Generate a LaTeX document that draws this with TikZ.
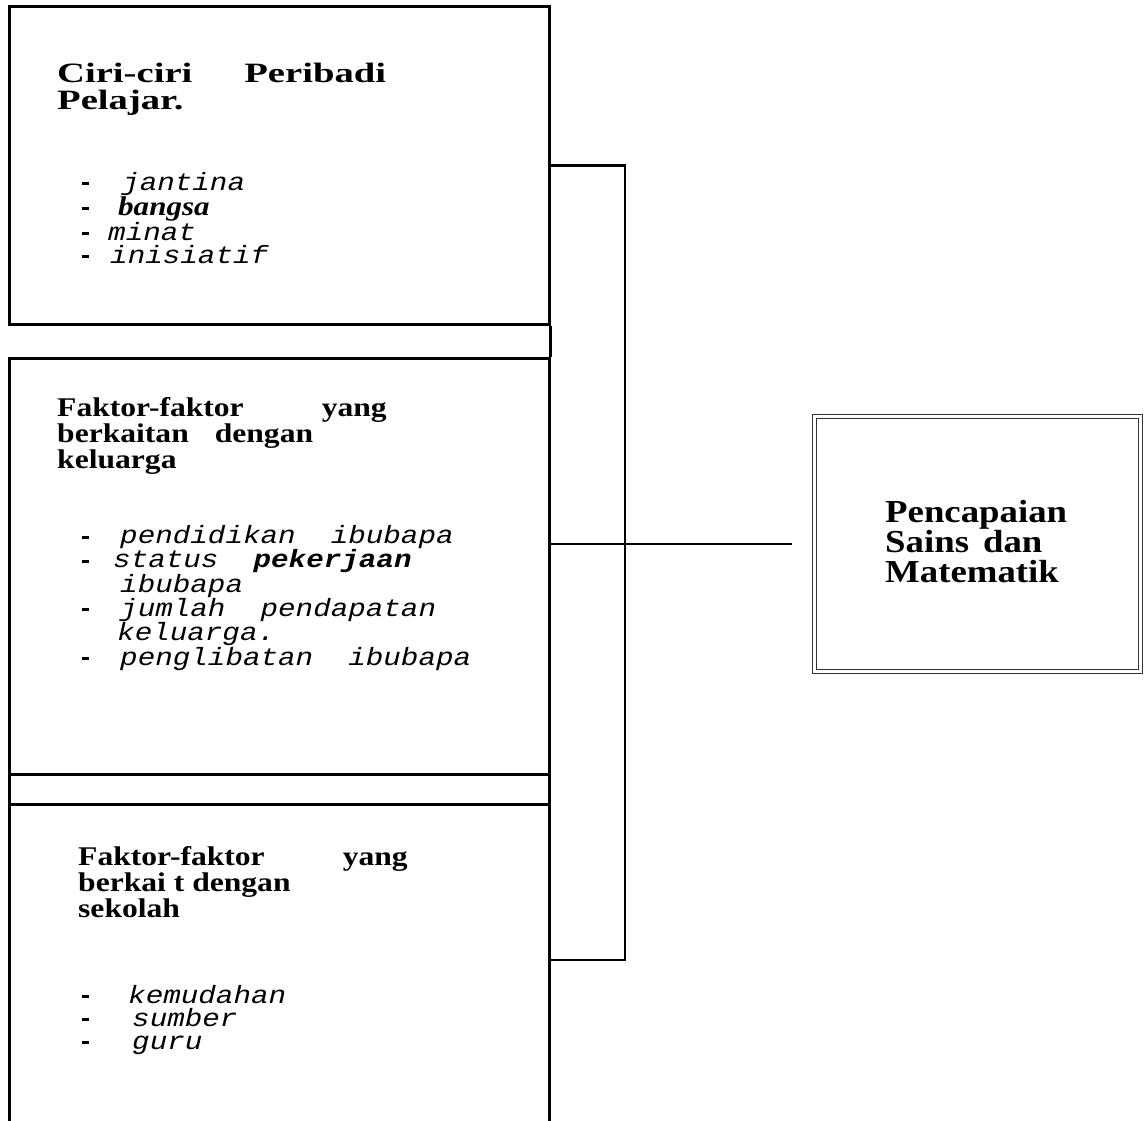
\documentclass[tikz,border=0pt]{standalone}
\usepackage{fontspec}
\setmainfont{Liberation Serif}
\newfontfamily\headfont{Liberation Serif}[FakeStretch=1.17]
\newfontfamily\bigheadfont{Liberation Serif}[FakeStretch=1.38]
\newfontfamily\goalfont{Liberation Serif}[FakeStretch=1.15]
\newfontfamily\listfont{Liberation Mono}[FakeStretch=1.17]
\newfontfamily\slantfont{Liberation Serif}[FakeStretch=1.15]
\usetikzlibrary{positioning}

\newcommand{\dashmk}{\rule[5pt]{7pt}{3pt}}
\newcommand{\itm}[2][38pt]{\makebox[#1][l]{\dashmk}#2}
\newcommand{\cont}[2][38pt]{\hspace*{#1}#2}

\tikzset{
  frame/.style={draw, line width=2.6pt, minimum width=540pt, anchor=north west, inner sep=0pt},
  head/.style={anchor=base west, align=left, inner sep=0pt, font=\headfont\bfseries\fontsize{27}{21}\selectfont},
  bighead/.style={head, font=\bigheadfont\bfseries\fontsize{28}{27}\selectfont},
  goalhead/.style={head, font=\goalfont\bfseries\fontsize{32}{30}\selectfont},
  items/.style={anchor=base west, align=left, inner sep=0pt, font=\listfont\itshape\fontsize{25}{23}\selectfont},
  goalbox/.style={draw=black!80, line width=1.8pt, double, double distance=2.2pt,
    minimum width=326pt, minimum height=255pt, inner sep=0pt},
  link/.style={line width=2.6pt}
}

\begin{document}
\begin{tikzpicture}[x=1pt,y=-1pt]
  \useasboundingbox (0,0) rectangle (1144,1121);

  % kotak di kiri
  \node[frame, minimum height=318pt] (peribadi) at (8,5) {};
  \node[frame, minimum height=416pt] (keluarga) at (8,357) {};
  \node[frame, minimum height=30pt] (jalur) at (8,773) {};
  \node[frame, minimum height=360pt] (sekolah) at (8,803) {};
  \draw[link] (peribadi.south east) -- (keluarga.north east);

  % tajuk dan senarai
  \node[bighead] (t1) at (57,110) {Ciri-ciri\hspace{52pt}Peribadi\\Pelajar.};
  \node[items] (s1) at (82,263) {%
    \itm[40pt]{jantina}\\
    \itm[36pt]{{\slantfont\fontsize{27}{23}\selectfont\bfseries\itshape bangsa}}\\
    \itm[26pt]{minat}\\
    \itm[28pt]{inisiatif}};

  \node[head] (t2) at (57,468) {Faktor-faktor\hspace{78pt}yang\\berkaitan\hspace{26pt}dengan\\keluarga};
  \node[items] (s2) at (82,665) {%
    \itm{pendidikan\ \ ibubapa}\\
    \itm[31pt]{status\ \ {\bfseries pekerjaan}}\\
    \cont{ibubapa}\\
    \itm{jumlah\ \ pendapatan}\\
    \cont[35pt]{keluarga.}\\
    \itm{penglibatan\ \ ibubapa}};

  \node[head] (t3) at (78,917) {Faktor-faktor\hspace{78pt}yang\\berkai t dengan\\sekolah};
  \node[items] (s3) at (82,1049) {%
    \itm[46pt]{kemudahan}\\
    \itm[50pt]{sumber}\\
    \itm[50pt]{guru}};

  % kotak hasil
  \node[goalbox] (goal) at (977.5,544) {};
  \node[goalhead] (g) at (885,582) {Pencapaian\\Sains\hspace{14pt}dan\\Matematik};

  % garis penghubung
  \coordinate (bustop) at (625,164);
  \coordinate (busbot) at (625,960);
  \draw[link] (peribadi.east) -- (peribadi.east -| bustop) -- (busbot) -- (sekolah.east |- busbot);
  \draw[link] (keluarga.east |- goal.west) -- ([xshift=-22pt]goal.west);
\end{tikzpicture}
\end{document}
